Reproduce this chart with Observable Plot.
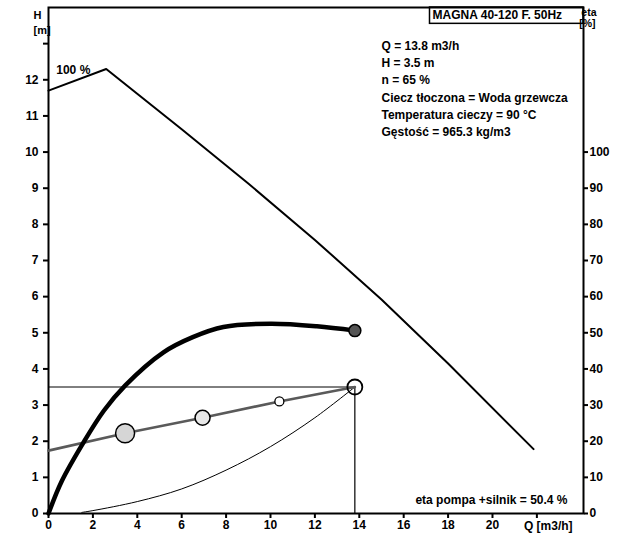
<!DOCTYPE html>
<html>
<head>
<meta charset="utf-8">
<script src="https://cdn.jsdelivr.net/npm/d3@7"></script>
<script src="https://cdn.jsdelivr.net/npm/@observablehq/plot@0.6"></script>
<style>
  html, body { margin: 0; padding: 0; background: #fff; }
  #chart svg { display: block; }
</style>
</head>
<body>
<div id="chart"></div>
<script>
// ---- data ----
// Pump head curve H(Q) at n = 65 %
const H_Q = [0, 2.6, 6, 9, 12, 15, 18, 21.85];
const H_M = [11.7, 12.3, 10.63, 9.13, 7.57, 5.92, 4.15, 1.78];

// Efficiency curve eta(Q) [%]
const ETA_Q = [0, 0.6, 1.58, 2.5, 3.45, 5.18, 6.5, 7.88, 9.99, 12.09, 13.8];
const ETA_P = [0, 9, 19.7, 28.5, 35.4, 44.6, 48.8, 51.6, 52.5, 51.8, 50.6];

// Line with circle markers (values on H scale)
const P_Q = [0, 3.45, 6.94, 10.4, 13.8];
const P_H = [1.74, 2.22, 2.65, 3.1, 3.5];

// System curve
const SYS_Q = [1.5, 2, 4, 6, 8, 10, 12, 13.8];
const SYS_H = [0.03, 0.08, 0.33, 0.68, 1.2, 1.85, 2.65, 3.5];

// Duty point
const DUTY_Q = 13.8;
const DUTY_H = 3.5;

// Axis ticks
const X_TICKS = [0, 2, 4, 6, 8, 10, 12, 14, 16, 18, 20, 22];
const X_LABEL = "Q [m3/h]";
const Y_TICKS = [0, 1, 2, 3, 4, 5, 6, 7, 8, 9, 10, 11, 12, 13];
const ETA_TICKS = [0, 10, 20, 30, 40, 50, 60, 70, 80, 90, 100];

// Texts
const TITLE = "MAGNA 40-120 F. 50Hz";
const INFO = [
  "Q = 13.8 m3/h",
  "H = 3.5 m",
  "n = 65 %",
  "Ciecz tłoczona = Woda grzewcza",
  "Temperatura cieczy = 90 °C",
  "Gęstość = 965.3 kg/m3"
];
const ETA_NOTE = "eta pompa +silnik = 50.4 %";
const CURVE_LABEL = { q: 0.35, h: 12.26, text: "100 %" };

// ---- tables ----
const hData = H_Q.map((q, i) => ({ q, h: H_M[i] }));
const etaData = ETA_Q.map((q, i) => ({ q, eta: ETA_P[i] }));
const pData = P_Q.map((q, i) => ({ q, h: P_H[i] }));
const sysData = SYS_Q.map((q, i) => ({ q, h: SYS_H[i] }));

const font = "'Liberation Sans', Arial, sans-serif";

const chart = Plot.plot({
  width: 621,
  height: 533,
  marginLeft: 48,
  marginRight: 38,
  marginTop: 7,
  marginBottom: 20,
  x: { domain: [0, 24.1] },
  y: { domain: [0, 14] },
  style: { fontFamily: font, fontSize: "12px", fontWeight: "bold", background: "#fff", color: "#000", overflow: "visible" },
  marks: [
    Plot.frame({ stroke: "#000", strokeWidth: 2 }),
    Plot.axisY({ ticks: Y_TICKS, tickFormat: d => (d === 13 ? "" : String(d)), tickSize: 5, tickPadding: 5, label: null, strokeWidth: 2 }),
    Plot.axisY({ anchor: "right", ticks: ETA_TICKS.map(e => e / 10), tickFormat: d => String(Math.round(d * 10)), tickSize: 4, tickPadding: 2, label: null, strokeWidth: 2 }),
    Plot.axisX({ ticks: X_TICKS, tickFormat: d => (d === 22 ? "" : String(d)), tickSize: 5, tickPadding: 2, label: null, strokeWidth: 2 }),
    Plot.text([X_LABEL], { x: () => 22, frameAnchor: "bottom", lineAnchor: "middle", dy: 12.5, dx: -13, textAnchor: "start", text: d => d }),

    // duty point reference lines
    Plot.ruleY([DUTY_H], { x1: 0, x2: DUTY_Q, stroke: "#000", strokeWidth: 1 }),
    Plot.ruleX([DUTY_Q], { y1: 0, y2: DUTY_H, stroke: "#000", strokeWidth: 1.2 }),

    // system curve
    Plot.line(sysData, { x: "q", y: "h", stroke: "#000", strokeWidth: 1, curve: "catmull-rom" }),

    // line with circles
    Plot.line(pData, { x: "q", y: "h", stroke: "#5a5a5a", strokeWidth: 2.6 }),
    Plot.dot([pData[1]], { x: "q", y: "h", r: 9.5, fill: "#d6d6d6", stroke: "#000", strokeWidth: 1.5 }),
    Plot.dot([pData[2]], { x: "q", y: "h", r: 7.5, fill: "#e8e8e8", stroke: "#000", strokeWidth: 1.5 }),
    Plot.dot([pData[3]], { x: "q", y: "h", r: 4.5, fill: "#fff", stroke: "#000", strokeWidth: 1.3 }),
    Plot.dot([pData[4]], { x: "q", y: "h", r: 7.5, fill: "none", stroke: "#000", strokeWidth: 1.8 }),

    // pump head curve
    Plot.line(hData, { x: "q", y: "h", stroke: "#000", strokeWidth: 2, curve: "linear" }),
    Plot.text([CURVE_LABEL], { x: "q", y: "h", text: "text", textAnchor: "start", fontSize: 12 }),

    // efficiency curve (eta % shown on right axis, eta/10 on H scale)
    Plot.line(etaData, { x: "q", y: d => d.eta / 10, stroke: "#000", strokeWidth: 4.5, curve: "catmull-rom" }),
    Plot.dot([etaData[etaData.length - 1]], { x: "q", y: d => d.eta / 10, r: 6, fill: "#555", stroke: "#000", strokeWidth: 1.5 }),

    // texts
    Plot.text([TITLE], { frameAnchor: "top-left", lineAnchor: "middle", dx: 384, dy: 8, textAnchor: "start", text: d => d }),
    Plot.text([INFO.join("\n")], { frameAnchor: "top-left", dx: 333, dy: 30, textAnchor: "start", lineAnchor: "top", lineHeight: 1.44, text: d => d }),
    Plot.text([ETA_NOTE], { frameAnchor: "bottom-right", lineAnchor: "middle", dx: -16, dy: -13.7, textAnchor: "end", text: d => d }),
    Plot.text(["H"], { frameAnchor: "top-left", lineAnchor: "middle", dx: -15, dy: 8, text: d => d, fontSize: 11 }),
    Plot.text(["[m]"], { frameAnchor: "top-left", lineAnchor: "middle", dx: -15, dy: 22.5, text: d => d, fontSize: 11 }),
    Plot.text(["eta"], { frameAnchor: "top-right", lineAnchor: "middle", dx: 13, dy: 5.5, text: d => d, fontSize: 10.5 }),
    Plot.text(["[%]"], { frameAnchor: "top-right", lineAnchor: "middle", dx: 12, dy: 16.5, text: d => d, fontSize: 10.5 })
  ]
});

document.getElementById("chart").appendChild(chart);

// box around the title, sized from the rendered text
const svg = d3.select(chart);
const titleNode = svg.selectAll("text").filter(function () { return this.textContent === TITLE; }).node();
if (titleNode) {
  const sr = chart.getBoundingClientRect();
  const tr = titleNode.getBoundingClientRect();
  const left = tr.left - sr.left - 3;
  const center = (tr.top + tr.bottom) / 2 - sr.top;
  const bottom = center + 8;
  const right = 621 - 38;
  svg.append("rect")
    .attr("x", left)
    .attr("y", 7)
    .attr("width", right - left)
    .attr("height", Math.max(0, bottom - 7))
    .attr("fill", "none")
    .attr("stroke", "#000")
    .attr("stroke-width", 1.5);
}
</script>
</body>
</html>
